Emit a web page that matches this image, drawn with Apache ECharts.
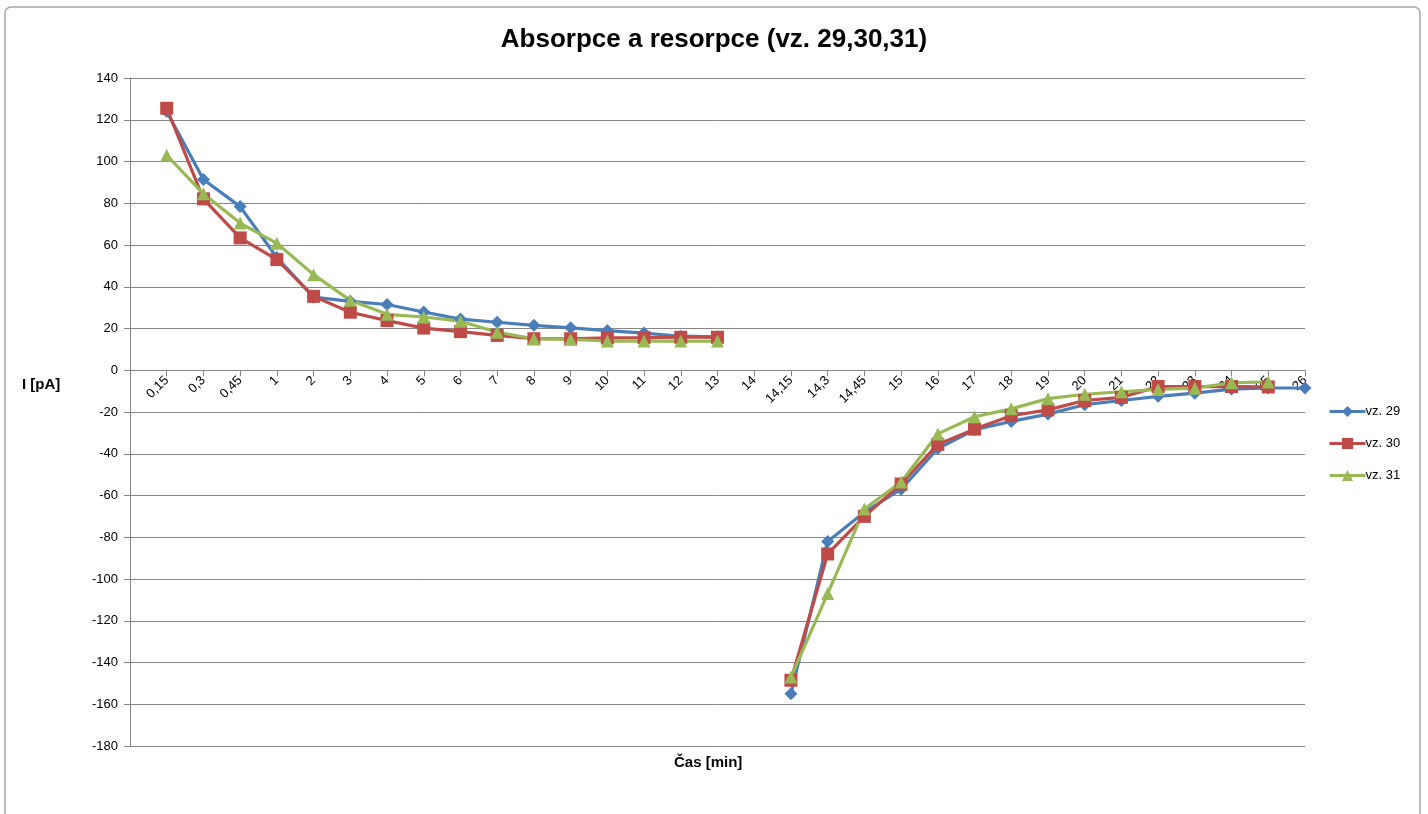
<!DOCTYPE html>
<html><head><meta charset="utf-8">
<script src="https://cdn.jsdelivr.net/npm/echarts@6/dist/echarts.min.js"></script>
<style>html,body{margin:0;padding:0;background:#fff;}#c{width:1428px;height:814px;}</style>
</head><body><div id="c"></div>
<script>
const categories = ['', '0,15','0,3','0,45','1','2','3','4','5','6','7','8','9','10','11','12','13','14',
  '14,15','14,3','14,45','15','16','17','18','19','20','21','22','23','24','25','26'];
const vz29 = [null, 124,91.4,78.4,54,35,33,31.5,27.9,24.5,23,21.5,20.3,19,17.8,16.3,16,null,
  -155,-82,-68,-57,-37.5,-28.5,-24.5,-21,-16.5,-14.5,-12.5,-11,-9,-8.5,-8.5];
const vz30 = [null, 125.5,82.1,63.4,53,35.4,27.8,23.8,20.2,18.5,16.7,15.1,15.1,15.5,15.6,15.8,15.8,null,
  -148.5,-88,-70,-54.5,-35.5,-28.2,-21.8,-19,-14.5,-13,-7.8,-7.8,-7.8,-8,null];
const vz31 = [null, 103,84.5,70.5,60.8,45.8,33.5,26.8,25.5,23.5,18.2,15.1,14.8,14,14,14,14,null,
  -147,-107,-66.5,-53.5,-30.5,-22.3,-18.5,-13.6,-11.5,-10.3,-9.2,-8.6,-6,-5.6,null];
const yTicks = {min:-180, max:140, interval:20};

const chart = echarts.init(document.getElementById('c'));
const blue = '#4A7EBB', red = '#BE4B48', green = '#98B954';
const font = 'Liberation Sans';
function s(name, data, color, symbol, size) {
  return {name, type:'line', data, connectNulls:false, symbol, symbolSize:size,
    lineStyle:{color, width:3.2}, itemStyle:{color}, z: 2};
}
const gridTop = 78, gridBottom = 68, plotH = 814 - gridTop - gridBottom;
const zeroOffset = -(plotH * (0 - yTicks.min) / (yTicks.max - yTicks.min));
chart.setOption({
  animation:false,
  graphic:[
    {type:'rect', shape:{x:5,y:7,width:1415,height:830,r:6}, style:{fill:'none',stroke:'#a6a6a6',lineWidth:1.5}, z:-1},
    {type:'text', left:'center', top:27, style:{text:'Absorpce a resorpce (vz. 29,30,31)', font:'bold 26px "Liberation Sans Narrow", "Liberation Sans"', fill:'#000'}},
    {type:'text', left:22, top:377, style:{text:'I [pA]', font:'bold 15px '+font, fill:'#000'}},
    {type:'text', left:674, top:755, style:{text:'Čas [min]', font:'bold 15px '+font, fill:'#000'}}
  ],
  grid:{left:130, right:123, top:gridTop, bottom:gridBottom},
  legend:{orient:'vertical', left:1323, top:400, itemGap:19, itemWidth:36, itemHeight:14,
    lineStyle:{width:3},
    textStyle:{fontFamily:font, fontSize:13, color:'#000', padding:[0,0,0,-5]},
    data:['vz. 29','vz. 30','vz. 31']},
  xAxis:{type:'category', data:categories, boundaryGap:false, offset: zeroOffset,
    axisLine:{onZero:false, lineStyle:{color:'#868686', width:1}},
    axisTick:{show:true, length:6, lineStyle:{color:'#868686'}, interval:0},
    axisLabel:{interval:0, rotate:45, fontFamily:font, fontSize:13, color:'#000', margin:8},
    splitLine:{show:false}},
  yAxis:{type:'value', min:yTicks.min, max:yTicks.max, interval:yTicks.interval,
    axisLine:{show:true, lineStyle:{color:'#868686'}},
    axisTick:{show:true, length:6, lineStyle:{color:'#868686'}},
    axisLabel:{fontFamily:font, fontSize:13, color:'#000', margin:12},
    splitLine:{lineStyle:{color:'#868686', width:1}}},
  series:[
    s('vz. 29', vz29, blue, 'diamond', 13),
    s('vz. 30', vz30, red, 'rect', 13),
    s('vz. 31', vz31, green, 'triangle', 13)
  ]
});
</script></body></html>
